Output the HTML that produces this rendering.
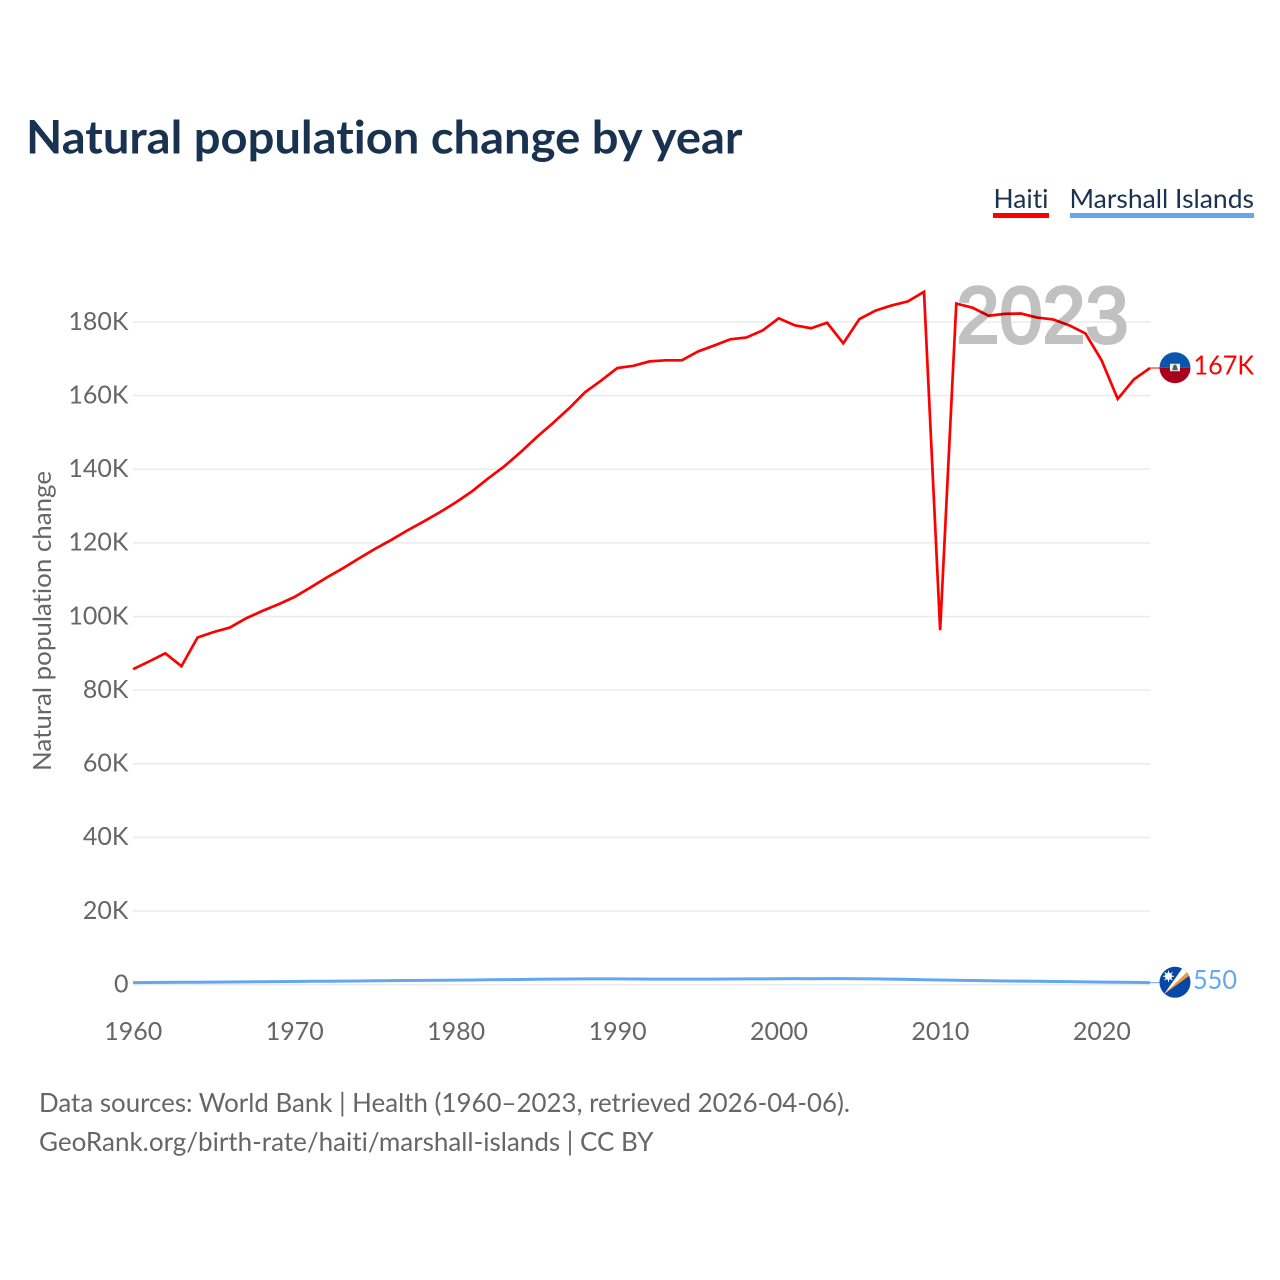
<!DOCTYPE html>
<html lang="en">
<head>
<meta charset="utf-8">
<title>Natural population change by year</title>
<style>
html,body{margin:0;padding:0;background:#fff;width:1280px;height:1280px;overflow:hidden}
svg{display:block}
text{font-family:"Lato","Carlito","Liberation Sans",sans-serif;font-variant-ligatures:none}
</style>
</head>
<body>
<svg id="chart" xmlns="http://www.w3.org/2000/svg" width="1280" height="1280" viewBox="0 0 1280 1280">
  <text x="26" y="153.5" font-size="46" font-weight="700" fill="#18324f" textLength="716.5" lengthAdjust="spacingAndGlyphs">Natural population change by year</text>

  <g>
    <text x="993.5" y="208" font-size="26.5" fill="#18324f" textLength="55" lengthAdjust="spacingAndGlyphs">Haiti</text>
    <rect x="993" y="213" width="56" height="5" fill="#ff0000"></rect>
  </g>
  <g>
    <text x="1069.5" y="208" font-size="26.5" fill="#18324f" textLength="184.5" lengthAdjust="spacingAndGlyphs">Marshall Islands</text>
    <rect x="1070" y="213" width="184" height="5" fill="#63a7ee"></rect>
  </g>

  <g id="grid"></g>
  <g id="yTicks"></g>
  <g id="xTicks"></g>

  <text transform="translate(51,771) rotate(-90)" font-size="25.5" fill="#666666" textLength="300" lengthAdjust="spacingAndGlyphs">Natural population change</text>

  <text x="956.5" y="342.5" font-size="80" font-weight="400" fill="#c1c1c1" stroke="#c1c1c1" stroke-width="3" textLength="172" lengthAdjust="spacingAndGlyphs" style="font-family:'Liberation Sans',sans-serif">2023</text>

  <g id="series" style="mix-blend-mode:multiply"></g>

  <defs>
    <clipPath id="clipHaiti"><circle cx="0" cy="0" r="15.5"></circle></clipPath>
    <clipPath id="clipMarshall"><circle cx="0" cy="0" r="15.5"></circle></clipPath>
  </defs>

  <g id="flagHaiti">
    <g clip-path="url(#clipHaiti)">
      <rect x="-16" y="-16" width="32" height="16" fill="#0a55ae"></rect>
      <rect x="-16" y="0" width="32" height="16" fill="#a8001c"></rect>
      <rect x="-5" y="-4" width="10" height="7.5" fill="#f2f2f2"></rect>
      <path d="M-3 2.5 L-1.2 -3 L1.2 -3 L3 2.5 Z" fill="#3f6a58"></path>
      <rect x="-0.8" y="-2.8" width="1.6" height="4.6" fill="#5f5a4a"></rect>
    </g>
  </g>

  <g id="flagMarshall">
    <g clip-path="url(#clipMarshall)">
      <rect x="-16" y="-16" width="32" height="32" fill="#0648a8"></rect>
      <path d="M-11 12 L13 -11 L15 -7 Z" fill="#f7982a"></path>
      <path d="M-11 12 L8 -15 L13 -11 Z" fill="#ffffff"></path>
      <circle cx="-6.5" cy="-6" r="3.6" fill="#ffffff"></circle>
      <path d="M-6.5 -11.5 V-0.5 M-12 -6 H-1 M-10.4 -9.9 L-2.6 -2.1 M-10.4 -2.1 L-2.6 -9.9" stroke="#ffffff" stroke-width="1"></path>
    </g>
  </g>

  <text id="labelHaiti" x="1193.5" font-size="26.5" fill="#ff0000" textLength="60.5" lengthAdjust="spacingAndGlyphs"></text>
  <text id="labelMarshall" x="1193" font-size="26.5" fill="#63a7ee" textLength="44" lengthAdjust="spacingAndGlyphs"></text>

  <text x="39" y="1112" font-size="26.5" fill="#666666" textLength="811" lengthAdjust="spacingAndGlyphs">Data sources: World Bank | Health (1960–2023, retrieved 2026-04-06).</text>
  <text x="39" y="1151" font-size="26.5" fill="#666666" textLength="614.5" lengthAdjust="spacingAndGlyphs">GeoRank.org/birth-rate/haiti/marshall-islands | CC BY</text>
</svg>

<script>
const years = [1960,1961,1962,1963,1964,1965,1966,1967,1968,1969,1970,1971,1972,1973,1974,1975,1976,1977,1978,1979,1980,1981,1982,1983,1984,1985,1986,1987,1988,1989,1990,1991,1992,1993,1994,1995,1996,1997,1998,1999,2000,2001,2002,2003,2004,2005,2006,2007,2008,2009,2010,2011,2012,2013,2014,2015,2016,2017,2018,2019,2020,2021,2022,2023];
const haitiValues = [85700,87800,90000,86500,94300,95800,97000,99500,101500,103300,105300,107900,110600,113100,115800,118400,120800,123400,125800,128300,131000,134000,137500,140800,144600,148700,152500,156500,160900,164100,167500,168100,169300,169600,169600,172000,173600,175300,175800,177700,181000,179100,178300,179800,174200,180800,183100,184500,185600,188200,96300,185000,183900,181700,182200,182300,181200,180700,179100,176900,169600,159100,164400,167500];
const marshallValues = [550,580,620,650,680,710,740,770,800,840,880,920,950,980,1020,1060,1100,1140,1180,1210,1250,1290,1330,1380,1420,1480,1530,1550,1570,1580,1570,1550,1530,1510,1500,1510,1530,1550,1570,1590,1600,1640,1600,1640,1650,1620,1580,1520,1440,1360,1280,1210,1140,1070,1010,960,920,880,820,760,700,680,640,550];
const yTickValues = [0,20000,40000,60000,80000,100000,120000,140000,160000,180000];
const yTickLabels = ["0","20K","40K","60K","80K","100K","120K","140K","160K","180K"];
const xTickValues = [1960,1970,1980,1990,2000,2010,2020];
const endLabels = ["167K","550"];

const NS = "http://www.w3.org/2000/svg";
const xScale = function (year) { return 133 + (year - 1960) * (1150 - 133) / (2023 - 1960); };
const yScale = function (value) { return 984.7 - value * (984.7 - 322) / 180000; };

const grid = document.getElementById("grid");
const yTicks = document.getElementById("yTicks");
const xTicks = document.getElementById("xTicks");
const series = document.getElementById("series");

yTickValues.forEach(function (value, i) {
  const line = document.createElementNS(NS, "line");
  
  
  line.setAttribute("x1", 133);
  line.setAttribute("x2", 1150);
  line.setAttribute("y1", yScale(value));
  line.setAttribute("y2", yScale(value));
  line.setAttribute("stroke", "#ebebeb");
  line.setAttribute("stroke-width", "1.5");
  grid.appendChild(line);

  const label = document.createElementNS(NS, "text");
  
  
  label.setAttribute("x", 128.5);
  label.setAttribute("y", yScale(value) + 7.8);
  label.setAttribute("text-anchor", "end");
  label.setAttribute("font-size", "25");
  label.setAttribute("fill", "#666666");
  label.textContent = yTickLabels[i];
  yTicks.appendChild(label);
});

xTickValues.forEach(function (year) {
  const label = document.createElementNS(NS, "text");
  
  
  label.setAttribute("x", xScale(year) + 0.3);
  label.setAttribute("y", 1040);
  label.setAttribute("text-anchor", "middle");
  label.setAttribute("font-size", "25");
  label.setAttribute("fill", "#666666");
  label.textContent = String(year);
  xTicks.appendChild(label);
});

function pointsFor(values) {
  return values.map(function (value, i) {
    return xScale(years[i]).toFixed(2) + "," + yScale(value).toFixed(2);
  }).join(" ");
}

const marshallLine = document.createElementNS(NS, "polyline");


marshallLine.setAttribute("points", pointsFor(marshallValues));
marshallLine.setAttribute("fill", "none");
marshallLine.setAttribute("stroke", "#63a7ee");
marshallLine.setAttribute("stroke-width", "3");
series.appendChild(marshallLine);

const haitiLine = document.createElementNS(NS, "polyline");


haitiLine.setAttribute("points", pointsFor(haitiValues));
haitiLine.setAttribute("fill", "none");
haitiLine.setAttribute("stroke", "#ff0000");
haitiLine.setAttribute("stroke-width", "2.7");
haitiLine.setAttribute("stroke-linejoin", "miter");
series.appendChild(haitiLine);

const lastX = xScale(years[years.length - 1]);
const haitiEndY = yScale(haitiValues[haitiValues.length - 1]);
const marshallEndY = yScale(marshallValues[marshallValues.length - 1]);

const haitiConnector = document.createElementNS(NS, "line");


haitiConnector.setAttribute("x1", lastX);
haitiConnector.setAttribute("x2", lastX + 10);
haitiConnector.setAttribute("y1", haitiEndY);
haitiConnector.setAttribute("y2", haitiEndY);
haitiConnector.setAttribute("stroke", "#ff0000");
haitiConnector.setAttribute("stroke-width", "1");
series.appendChild(haitiConnector);

const marshallConnector = document.createElementNS(NS, "line");


marshallConnector.setAttribute("x1", lastX);
marshallConnector.setAttribute("x2", lastX + 10);
marshallConnector.setAttribute("y1", marshallEndY);
marshallConnector.setAttribute("y2", marshallEndY);
marshallConnector.setAttribute("stroke", "#63a7ee");
marshallConnector.setAttribute("stroke-width", "1");
series.appendChild(marshallConnector);

document.getElementById("flagHaiti").setAttribute("transform", "translate(" + (lastX + 25) + "," + (haitiEndY - 0.3) + ")");
document.getElementById("flagMarshall").setAttribute("transform", "translate(" + (lastX + 25) + "," + (marshallEndY - 0.4) + ")");

const labelHaiti = document.getElementById("labelHaiti");
labelHaiti.setAttribute("y", haitiEndY + 6.5);
labelHaiti.textContent = endLabels[0];
const labelMarshall = document.getElementById("labelMarshall");
labelMarshall.setAttribute("y", marshallEndY + 6.5);
labelMarshall.textContent = endLabels[1];
</script>
</body>
</html>
